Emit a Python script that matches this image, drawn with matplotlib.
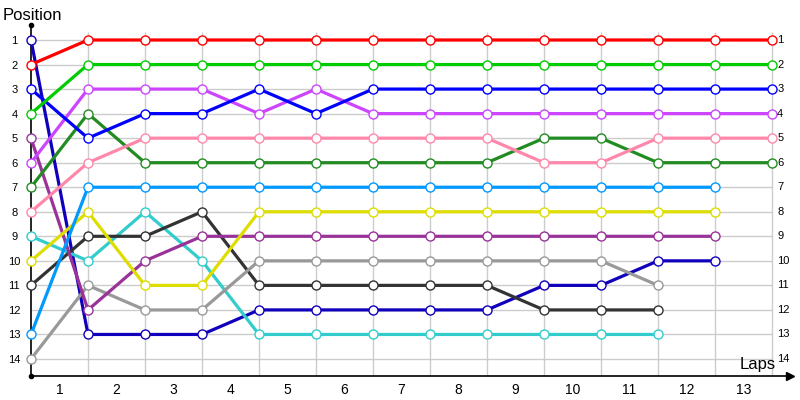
import matplotlib.pyplot as plt

plt.rcParams["font.family"] = ["Liberation Sans", "DejaVu Sans"]

# lap-by-lap positions (lap 0 = grid), one list per driver
laps_labels = [str(i) for i in range(1, 14)]
positions = list(range(1, 15))

red = [2, 1, 1, 1, 1, 1, 1, 1, 1, 1, 1, 1, 1, 1]
green = [4, 2, 2, 2, 2, 2, 2, 2, 2, 2, 2, 2, 2, 2]
blue = [3, 5, 4, 4, 3, 4, 3, 3, 3, 3, 3, 3, 3, 3]
magenta = [6, 3, 3, 3, 4, 3, 4, 4, 4, 4, 4, 4, 4, 4]
pink = [8, 6, 5, 5, 5, 5, 5, 5, 5, 6, 6, 5, 5, 5]
darkgreen = [7, 4, 6, 6, 6, 6, 6, 6, 6, 5, 5, 6, 6, 6]
lightblue = [13, 7, 7, 7, 7, 7, 7, 7, 7, 7, 7, 7, 7]
yellow = [10, 8, 11, 11, 8, 8, 8, 8, 8, 8, 8, 8, 8]
purple = [5, 12, 10, 9, 9, 9, 9, 9, 9, 9, 9, 9, 9]
gray = [14, 11, 12, 12, 10, 10, 10, 10, 10, 10, 10, 11]
dark = [11, 9, 9, 8, 11, 11, 11, 11, 11, 12, 12, 12]
navy = [1, 13, 13, 13, 12, 12, 12, 12, 12, 11, 11, 10, 10]
cyan = [9, 10, 8, 10, 13, 13, 13, 13, 13, 13, 13, 13]

series = [
    (navy, "#1100bb"),
    (cyan, "#33cccc"),
    (dark, "#333333"),
    (gray, "#999999"),
    (purple, "#993399"),
    (yellow, "#dddd00"),
    (lightblue, "#0099ff"),
    (darkgreen, "#228b22"),
    (pink, "#ff88aa"),
    (magenta, "#cc44ff"),
    (blue, "#0000ff"),
    (green, "#00cc00"),
    (red, "#ff0000"),
]

fig = plt.figure(figsize=(8, 4), dpi=100)
ax = fig.add_axes([31 / 800, 24 / 400, 759 / 800, 351 / 400])

n_laps = len(laps_labels)
ax.set_xlim(0, n_laps + 18 / 57)
ax.set_ylim(14 + 17 / 24.54, 1 - 15 / 24.54)

# grid
ax.hlines(positions, 0, n_laps, color="#cccccc", lw=1, zorder=0)
ax.vlines(range(1, n_laps + 1), 1 - 8 / 24.54, 14 + 17 / 24.54,
          color="#cccccc", lw=1, zorder=0)

for vals, col in series:
    ax.plot(range(len(vals)), vals, color=col, lw=2.3, marker="o", ms=6.5,
            mfc="white", mec=col, mew=1, zorder=3, clip_on=False)

for s in ["top", "right"]:
    ax.spines[s].set_visible(False)
ax.spines["left"].set_linewidth(1.2)
ax.spines["bottom"].set_linewidth(1.2)
ax.plot(0, 1, "ko", ms=3, transform=ax.transAxes, clip_on=False)
ax.plot(0, 0, "ko", ms=3, transform=ax.transAxes, clip_on=False)
ax.plot(1, 0, ">k", ms=6, transform=ax.transAxes, clip_on=False)

ax.set_yticks(positions)
ax.set_yticklabels([str(p) for p in positions], fontsize=8, ha="center")
ax.tick_params(axis="y", length=0, pad=12)
ax.set_xticks([i + 0.5 for i in range(n_laps)])
ax.set_xticklabels(laps_labels, fontsize=10)
ax.tick_params(axis="x", length=0, pad=5)

for p in positions:
    ax.text(n_laps + 0.09, p, str(p), fontsize=8, ha="left", va="center")

ax.text((758 - 31) / 759, (376 - 364) / 351, "Laps", fontsize=12,
        ha="center", va="center", transform=ax.transAxes)
fig.text(3 / 800, 1 - 15 / 400, "Position", fontsize=12, ha="left", va="center")

fig.savefig("out.png", dpi=100)
